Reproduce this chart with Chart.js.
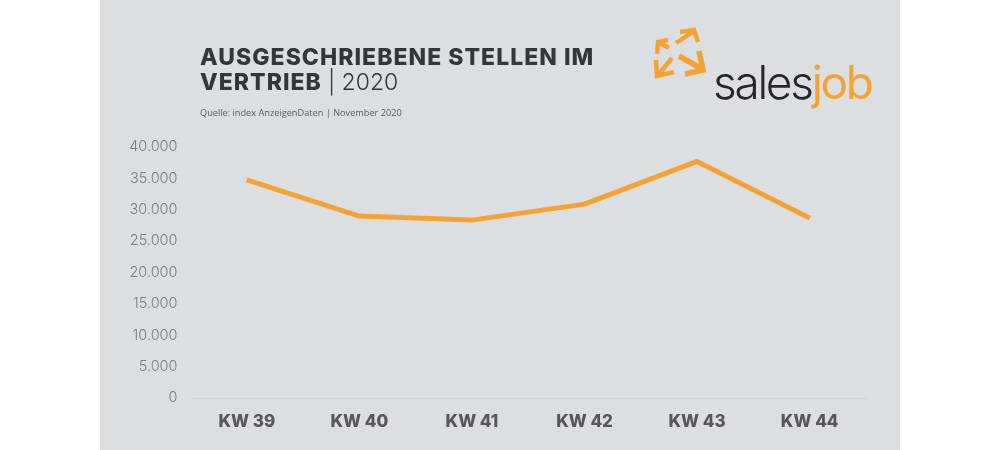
<!DOCTYPE html>
<html><head><meta charset="utf-8">
<script src="https://cdn.jsdelivr.net/npm/chart.js@4"></script>
<style>
html,body{margin:0;padding:0;background:#fff;width:1000px;height:450px;overflow:hidden}
#panel{position:absolute;left:100px;top:0;width:800px;height:450px;background:#dcdfe2}
canvas{position:absolute;left:0;top:0}
.t{position:absolute;white-space:nowrap;font-family:Inter,sans-serif}
#t1,#t2{left:100px;font-size:23px;line-height:28px;font-weight:800;color:#33373b;letter-spacing:1.03px}
#t1{top:43px}#t2{top:68px}
#t2 span{font-weight:300;letter-spacing:0}
#src{left:100px;top:106px;font:400 9.2px "Open Sans",sans-serif;line-height:14px;color:#55595d}
#logo{left:613px;top:52px;font:300 46px/60px Inter,"Liberation Sans",sans-serif;letter-spacing:-2.3px;color:#24262a}
#logo b{color:#f5a235;font-weight:400}
svg{position:absolute;left:550px;top:22px}
</style></head><body>
<div id="panel">
<canvas id="c" width="800" height="450"></canvas>
<div class="t" id="t1">AUSGESCHRIEBENE STELLEN IM</div>
<div class="t" id="t2">VERTRIEB <span>| 2020</span></div>
<div class="t" id="src">Quelle: index AnzeigenDaten | November 2020</div>
<svg width="64" height="62" viewBox="0 0 64 62" fill="none" stroke="#f5a235" stroke-width="4.5">
<path d="M18 18 L8 20 L7 32 M8 20 L19 26"/>
<path d="M26 21 L44 9 M30 10 L44 8 L48 20"/>
<path d="M29 34 L52 47 M49 29 L53 48 L35 52" stroke-width="5.5"/>
<path d="M9 52 L22 36 M6 38 L7 54 L24 50"/>
</svg>
<div class="t" id="logo">sales<b>job</b></div>
</div>
<script>
const categories = ["KW 39","KW 40","KW 41","KW 42","KW 43","KW 44"];
const stellen = [34750,29000,28350,30900,37700,28700];
new Chart(document.getElementById('c'),{
 type:'line',
 data:{labels:categories,datasets:[{data:stellen,borderColor:'#f5a235',borderWidth:5,pointRadius:0,tension:0,fill:false,borderCapStyle:'butt',borderJoinStyle:'round'}]},
 options:{responsive:false,animation:false,devicePixelRatio:1,
  layout:{padding:{left:0,right:34,top:147,bottom:0}},
  plugins:{legend:{display:false},title:{display:false},tooltip:{enabled:false}},
  scales:{
   y:{min:0,max:40000,ticks:{stepSize:5000,padding:13,color:'#77797c',font:{family:'Inter',size:14.5,weight:'300'},
      callback:v=>v===0?'0':String(v/1000)+'.000'},
      grid:{display:false,drawTicks:false},border:{display:false},afterFit(a){a.width=90.5}},
   x:{offset:true,ticks:{padding:14,color:'#55575a',font:{family:'Inter',size:17,weight:'800'},maxRotation:0},
      grid:{display:false,drawTicks:false,offset:true},border:{color:'#d2d5d9',width:1},afterFit(a){a.height=52}}
  }}
});
</script>
</body></html>
